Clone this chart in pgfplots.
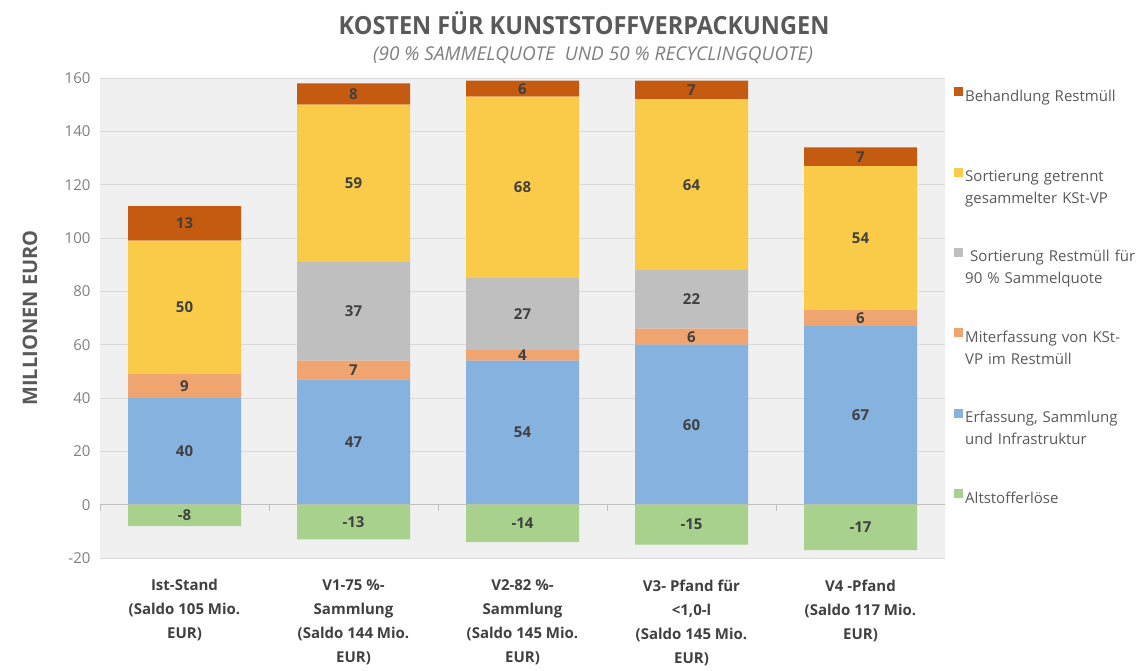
\documentclass[border=0pt]{standalone}
\usepackage{fontspec}
\setmainfont{Open Sans}
\newfontfamily\condfont{Open Sans}[FakeStretch=0.94]
\usepackage{pgfplots}
\usepackage{pgfplotstable}
\pgfplotsset{compat=1.18}
\usetikzlibrary{calc}

\definecolor{cblue}{HTML}{85B2DE}
\definecolor{corange}{HTML}{F0A470}
\definecolor{cgray}{HTML}{BFBFBF}
\definecolor{cyellow}{HTML}{F9CB48}
\definecolor{cred}{HTML}{C55A11}
\definecolor{cgreen}{HTML}{A9D18E}
\definecolor{bggray}{HTML}{F0F0F0}
\definecolor{gridgray}{HTML}{D9D9D9}
\definecolor{txtgray}{HTML}{595959}
\definecolor{tickgray}{HTML}{7F7F7F}
\definecolor{subgray}{HTML}{7F7F7F}
\definecolor{lbl}{HTML}{404040}

\pgfplotstableread{
x blue orange gray yellow red green
0 40 9 0 50 13 -8
1 47 7 37 59 8 -13
2 54 4 27 68 6 -14
3 60 6 22 64 7 -15
4 67 6 0 54 7 -17
}\costdata

\pgfplotsset{
  seg/.style={
    draw=none,
    point meta=explicit,
    nodes near coords={\pgfmathfloatifflags{\pgfplotspointmeta}{0}{}{\pgfmathprintnumber{\pgfplotspointmeta}}},
    every node near coord/.append style={anchor=center, font=\bfseries\fontsize{15}{18}\selectfont, text=lbl},
  },
  base/.style={
    scale only axis, width=845pt, height=480pt,
    xmin=-0.5, xmax=4.5, ymin=-20, ymax=160,
    bar width=113pt,
    /pgf/number format/assume math mode=true,
    /pgf/number format/fixed,
    /pgf/number format/precision=0,
  },
}

\begin{document}
\begin{tikzpicture}
\begin{axis}[base, name=ax, ybar stacked,
  axis background/.style={fill=bggray},
  axis line style={draw=none}, tick style={draw=none},
  ymajorgrids, grid style={gridgray, line width=0.9pt},
  ytick={-20,0,...,160},
  yticklabel style={text=tickgray, font=\fontsize{15}{18}\selectfont, xshift=-6pt},
  xtick={0,...,4},
  xticklabels={{Ist-Stand\\(Saldo 105 Mio.\\EUR)},{V1-75 \%-\\Sammlung\\(Saldo 144 Mio.\\EUR)},{V2-82 \%-\\Sammlung\\(Saldo 145 Mio.\\EUR)},{V3- Pfand für\\<1,0-l\\(Saldo 145 Mio.\\EUR)},{V4 -Pfand\\(Saldo 117 Mio.\\EUR)}},
  xticklabel style={align=center, text=lbl, font=\bfseries\fontsize{15}{24}\selectfont, yshift=-18pt},
  ylabel={MILLIONEN EURO},
  every axis y label/.style={at={(rel axis cs:0,0.5)}, rotate=90, anchor=center, yshift=70pt, font=\bfseries\fontsize{20}{24}\selectfont, text=txtgray},
  legend image code/.code={\fill[#1] (0pt,0pt) rectangle (9pt,9pt);},
  reverse legend,
  legend cell align=left,
  legend style={at={(1,1)}, anchor=north west, xshift=6pt, yshift=-7pt, draw=none, fill=none, font=\fontsize{15}{22}\selectfont, text=txtgray, row sep=63pt, nodes={text width=175pt, align=left}},
]
\draw[color=cgray, line width=1pt] (axis cs:-0.5,0) -- (axis cs:4.5,0);
\pgfplotsinvokeforeach{-0.5,0.5,1.5,2.5,3.5,4.5}{\draw[cgray, line width=1pt] (axis cs:#1,0) -- ++(0pt,-6pt);}
\addlegendimage{fill=cgreen, draw=none}
\addlegendentry{Altstofferlöse}
\addplot[fill=cblue, seg=blue] table[x=x, y=blue, meta=blue] {\costdata};
\addlegendentry{Erfassung, Sammlung\\und Infrastruktur}
\addplot[fill=corange, seg=orange] table[x=x, y=orange, meta=orange] {\costdata};
\addlegendentry{Miterfassung von KSt-\\VP im Restmüll}
\addplot[fill=cgray, seg=gray] table[x=x, y=gray, meta=gray] {\costdata};
\addlegendentry{\ Sortierung Restmüll für\\90 \% Sammelquote}
\addplot[fill=cyellow, seg=yellow] table[x=x, y=yellow, meta=yellow] {\costdata};
\addlegendentry{Sortierung getrennt\\gesammelter KSt-VP}
\addplot[fill=cred, seg=red] table[x=x, y=red, meta=red] {\costdata};
\addlegendentry{Behandlung Restmüll}
\end{axis}
\begin{axis}[base, hide axis, ybar, bar shift=0pt]
\addplot[fill=cgreen, seg=green, visualization depends on={\thisrow{green} \as \rawy},
  every node near coord/.append style={shift={(axis direction cs:0,-\rawy/2)}}] table[x=x, y=green, meta=green] {\costdata};
\end{axis}
\node[font=\condfont\bfseries\fontsize{25}{30}\selectfont, text=txtgray] at ($(ax.north west)+(484pt,55pt)$) {KOSTEN FÜR KUNSTSTOFFVERPACKUNGEN};
\node[font=\itshape\fontsize{19}{22}\selectfont, text=subgray] at ($(ax.north west)+(493pt,23pt)$) {(90 \% SAMMELQUOTE\ \ UND 50 \% RECYCLINGQUOTE)};
\pgfresetboundingbox
\path ($(ax.south west)+(-100pt,-112pt)$) rectangle ($(ax.north east)+(198pt,78pt)$);
\end{tikzpicture}
\end{document}
